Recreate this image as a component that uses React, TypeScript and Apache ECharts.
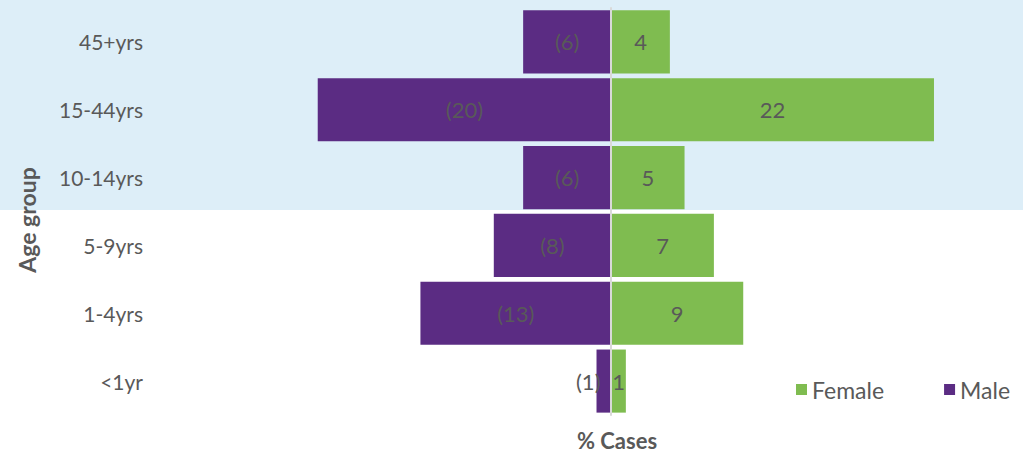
import React, { useEffect, useRef } from "react";
import * as echarts from "echarts";

const categories = ["<1yr", "1-4yrs", "5-9yrs", "10-14yrs", "15-44yrs", "45+yrs"];
const maleValues = [-1, -13, -8, -6, -20, -6];
const femaleValues = [1, 9, 7, 5, 22, 4];

const FONT = "Lato";
const GREY = "#595959";
const PURPLE = "#5B2C83";
const GREEN = "#7FBC50";

export default function App() {
  const ref = useRef<HTMLDivElement>(null);
  useEffect(() => {
    document.body.style.margin = "0";
    const chart = echarts.init(ref.current!, null, { renderer: "svg" });
    chart.setOption({
      animation: false,
      textStyle: { fontFamily: FONT },
      grid: { left: 171, right: 45, top: 8, bottom: 37, containLabel: false },
      graphic: [
        {
          type: "rect",
          z: -10,
          silent: true,
          shape: { x: 0, y: 0, width: 1023, height: 210 },
          style: { fill: "#DDEEF8" },
        },
        {
          type: "text",
          x: 617,
          y: 440,
          style: {
            text: "% Cases",
            fill: GREY,
            font: `bold 22px ${FONT}`,
            textAlign: "center",
            textVerticalAlign: "middle",
          },
        },
        {
          type: "text",
          x: 27,
          y: 220,
          rotation: Math.PI / 2,
          style: {
            text: "Age group",
            fill: GREY,
            font: `bold 23px ${FONT}`,
            textAlign: "center",
            textVerticalAlign: "middle",
          },
        },
      ],
      legend: {
        data: ["Female", "Male"],
        left: 796,
        top: 378,
        width: 227,
        padding: 0,
        itemWidth: 11,
        itemHeight: 11,
        itemGap: 60,
        icon: "rect",
        textStyle: { color: GREY, fontSize: 23, fontFamily: FONT },
      },
      xAxis: {
        type: "value",
        min: -30,
        max: 25,
        show: false,
      },
      yAxis: [
        {
          type: "category",
          data: categories,
          z: 5,
          axisLine: { show: true, onZero: true, lineStyle: { color: "#D9D9D9", width: 2 } },
          axisTick: { show: false },
          axisLabel: { show: false },
        },
        {
          type: "category",
          data: categories,
          position: "left",
          axisLine: { show: false, onZero: false },
          axisTick: { show: false },
          axisLabel: { color: GREY, fontSize: 21, margin: 28, fontFamily: FONT },
        },
      ],
      series: [
        {
          name: "Male",
          type: "bar",
          stack: "total",
          barCategoryGap: "7%",
          itemStyle: { color: PURPLE },
          data: maleValues.map((v, i) =>
            i === 0
              ? { value: v, label: { position: "left", distance: -4 } }
              : v
          ),
          label: {
            show: true,
            position: "inside",
            color: GREY,
            fontSize: 22,
            fontFamily: FONT,
            formatter: (p: any) => `(${Math.abs(p.value)})`,
          },
        },
        {
          name: "Female",
          type: "bar",
          stack: "total",
          barCategoryGap: "7%",
          itemStyle: { color: GREEN },
          data: femaleValues,
          label: {
            show: true,
            position: "inside",
            color: GREY,
            fontSize: 22,
            fontFamily: FONT,
          },
        },
      ],
    });
    return () => chart.dispose();
  }, []);
  return <div ref={ref} style={{ width: 1023, height: 452 }} />;
}
